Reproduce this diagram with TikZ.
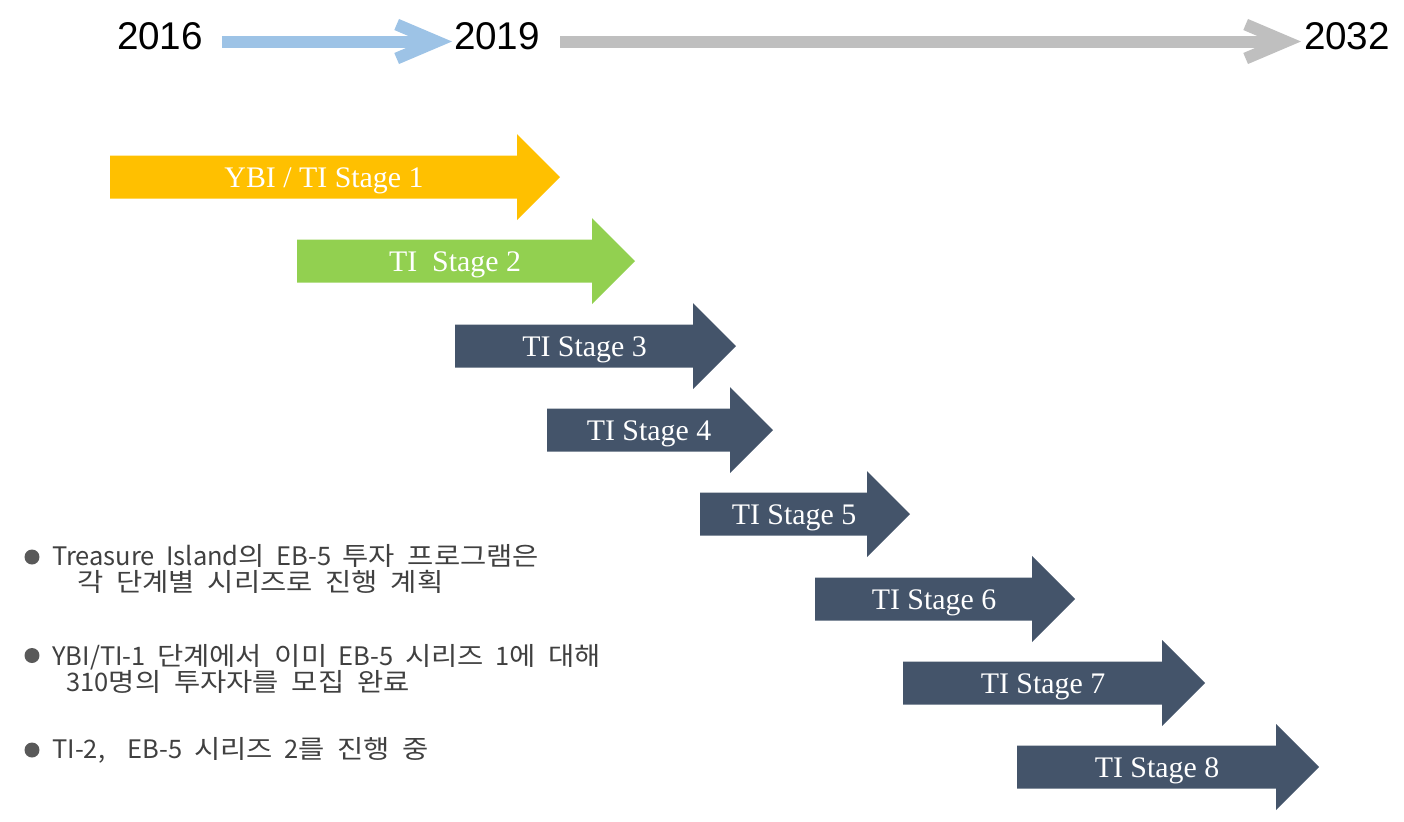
\documentclass[tikz,border=0pt]{standalone}
\usepackage{fontspec}
\setmainfont{Liberation Serif}
\newfontfamily\yearfont{Liberation Sans}
\newfontfamily\korfont[WordSpace=2]{Noto Sans CJK KR}
\newfontfamily\hanfont[FakeStretch=1.12,WordSpace=2]{Noto Sans CJK KR}
\newcommand\hg[1]{{\hanfont #1}}
\definecolor{tlblue}{HTML}{9DC3E6}
\definecolor{tlgray}{HTML}{BFBFBF}
\definecolor{sgold}{HTML}{FFC000}
\definecolor{sgreen}{HTML}{92D050}
\definecolor{sdark}{HTML}{44546A}
\definecolor{txtgray}{HTML}{404040}
\definecolor{dotgray}{HTML}{595959}
\tikzset{
year/.style={font=\yearfont\fontsize{22}{26}\selectfont,inner sep=0pt},
tline/.style={line width=0.24cm,line join=miter},
stagelab/.style={font=\fontsize{17}{20}\selectfont,text=white,inner sep=0pt},
bdot/.style={circle,fill=dotgray,minimum size=0.3cm,inner sep=0pt},
btext/.style={font=\korfont\fontsize{14.5}{17}\selectfont,text=txtgray,inner sep=0pt,anchor=base west},
}
\begin{document}
\begin{tikzpicture}[x=0.02cm,y=-0.02cm]
\useasboundingbox (0,0) rectangle (1404,822);
% years
\node[year](y2016) at (160,36){2016};
\node[year](y2019) at (497,36){2019};
\node[year](y2032) at (1347,36){2032};
\draw[tline,tlblue,shorten <=0.37cm,shorten >=0.34cm]([yshift=-0.11cm]y2016.east)--([yshift=-0.11cm]y2019.west);
\draw[tline,tlblue]([xshift=-0.34cm,yshift=-0.11cm]y2019.west)++(-40,-17)--++(40,17)--++(-40,17);
\draw[tline,tlgray,shorten <=0.40cm,shorten >=0.36cm]([yshift=-0.11cm]y2019.east)--([yshift=-0.11cm]y2032.west);
\draw[tline,tlgray]([xshift=-0.36cm,yshift=-0.11cm]y2032.west)++(-40,-17)--++(40,17)--++(-40,17);
% stages
\foreach \sn/\sx/\st/\sy/\sc/\sl in {1/110/560/177/sgold/{YBI / TI Stage 1},2/297/635/261/sgreen/{TI\ \ Stage 2},3/455/736/346/sdark/{TI Stage 3},4/547/773/430/sdark/{TI Stage 4},5/700/910/514/sdark/{TI Stage 5},6/815/1075/599/sdark/{TI Stage 6},7/903/1205/683/sdark/{TI Stage 7},8/1017/1319/767/sdark/{TI Stage 8}}{
\fill[\sc](\sx,\sy-21.5)--(\st-43,\sy-21.5)--(\st-43,\sy-43)--(\st,\sy)--(\st-43,\sy+43)--(\st-43,\sy+21.5)--(\sx,\sy+21.5)--cycle;
\node[stagelab,anchor=base](s\sn) at ({(\sx+\st)/2-11},\sy+10){\sl};}
% notes
\foreach \k/\by in {1/557,2/655.5,3/750}{\node[bdot](d\k) at (32,\by){};}
\node[btext](n1a) at (52,565){Treasure Island\hg{의} EB-5 \hg{투자 프로그램은}};
\node[btext](n1b) at (77,591){\hg{각 단계별 시리즈로 진행 계획}};
\node[btext](n2a) at (52,665.7){YBI/TI-1 \hg{단계에서 이미} EB-5 \hg{시리즈} 1\hg{에 대해}};
\node[btext](n2b) at (66,691.7){310\hg{명의 투자자를 모집 완료}};
\node[btext](n3a) at (52,758.3){TI-2,\ \ EB-5 \hg{시리즈} 2\hg{를 진행 중}};
\end{tikzpicture}
\end{document}
